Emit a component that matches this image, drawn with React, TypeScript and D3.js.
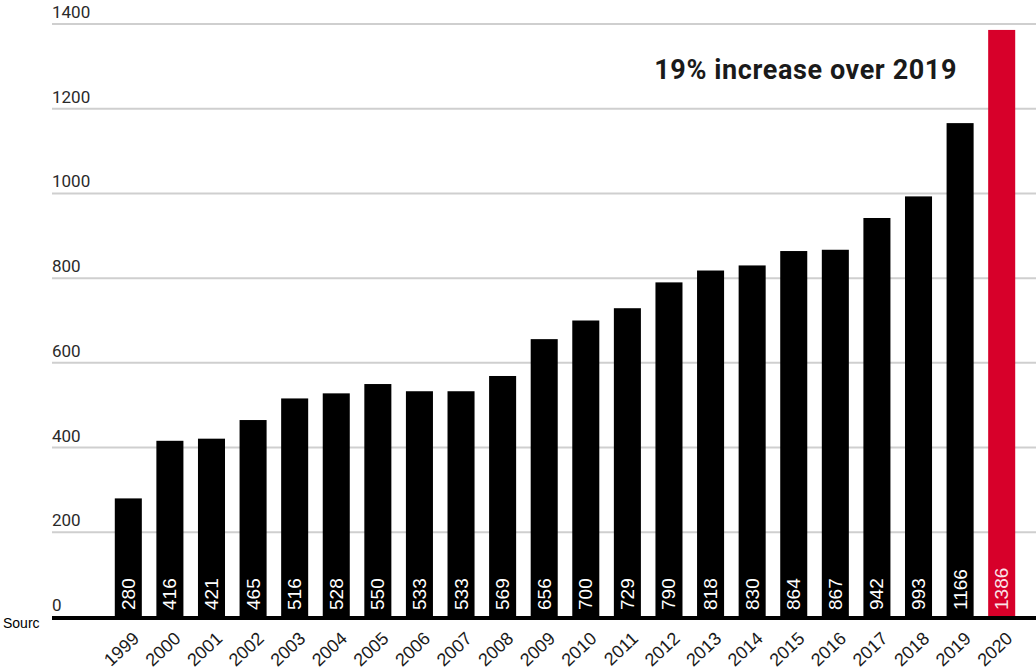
import React from "react";
import * as d3 from "d3";

const years = ["1999","2000","2001","2002","2003","2004","2005","2006","2007","2008","2009","2010","2011","2012","2013","2014","2015","2016","2017","2018","2019","2020"];
const counts = [280,416,421,465,516,528,550,533,533,569,656,700,729,790,818,830,864,867,942,993,1166,1386];
const yTicks = [0,200,400,600,800,1000,1200,1400];
const headline = "19% increase over 2019";
const sourceText = "Sourc";

const W = 1036;
const H = 672;
const gridLeft = 52;
const baseY = 617;

export default function App() {
  const x = d3.scaleBand<string>().domain(years).range([94, 1036]).paddingInner(0.35).paddingOuter(0.5);
  const y = d3.scaleLinear().domain([0, 1400]).range([baseY, 24]);
  const last = years[years.length - 1];

  return (
    <svg width={W} height={H} style={{ position: "absolute", left: 0, top: 0 }}>
      <rect width={W} height={H} fill="#fff" />
      {yTicks.map((t) => (
        <g key={t}>
          {t > 0 && (
            <line x1={gridLeft} x2={W} y1={y(t)} y2={y(t)} stroke="#cfcfcf" strokeWidth={2} />
          )}
          <text x={gridLeft} y={y(t) - 6} fontFamily="Roboto, sans-serif" fontSize={17} fill="#2a2a2a">
            {t}
          </text>
        </g>
      ))}
      {years.map((yr, i) => {
        const bx = x(yr)!;
        const cx = bx + x.bandwidth() / 2;
        const isLast = yr === last;
        return (
          <g key={yr}>
            <rect x={bx} y={y(counts[i])} width={x.bandwidth()} height={baseY - y(counts[i])} fill={isLast ? "#d7002a" : "#000"} />
            <text
              transform={`translate(${cx},${baseY - 7}) rotate(-90)`}
              dominantBaseline="central"
              fontFamily="'Liberation Sans', Arial, sans-serif"
              fontSize={19}
              fill={isLast ? "#fbe3e8" : "#fff"}
            >
              {counts[i]}
            </text>
            <text
              transform={`translate(${cx + 12},${baseY + 23}) rotate(-43)`}
              textAnchor="end"
              fontFamily="'Liberation Sans', Arial, sans-serif"
              fontSize={18}
              fill="#1a1a1a"
            >
              {yr}
            </text>
          </g>
        );
      })}
      <line x1={gridLeft} x2={W} y1={baseY + 1} y2={baseY + 1} stroke="#000" strokeWidth={4} />
      <text x={3} y={628} fontFamily="'Liberation Sans', Arial, sans-serif" fontSize={14} fill="#000">
        {sourceText}
      </text>
      <text x={957} y={79} textAnchor="end" fontFamily="Roboto, sans-serif" fontWeight={700} fontSize={27} letterSpacing={0.6} fill="#1a1a1a">
        {headline}
      </text>
    </svg>
  );
}
